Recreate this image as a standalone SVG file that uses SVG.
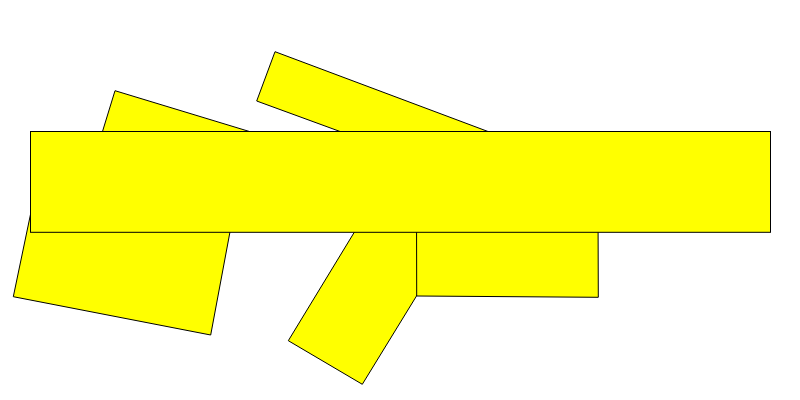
<svg xmlns="http://www.w3.org/2000/svg" width="800" height="400" viewBox="0 0 800 400">
<style>
.s{fill:#ffff00;stroke:#000;stroke-width:1;stroke-linejoin:miter}
</style>
<rect width="800" height="400" fill="#fff"/>
<g id="shape-left">
<polygon class="s" points="115,90.7 255,133.2 239.7,180 210.7,335 13.3,296.7 33.5,200 90.7,170"/>
</g>
<g id="shape-upper">
<polygon class="s" points="275,51.7 520,143.5 500,190 256.7,101"/>
</g>
<g id="shape-tilted-lower">
<polygon class="s" points="288.3,340.7 362.3,384.3 416.5,296 470,200 380,190"/>
</g>
<g id="shape-rect-lower">
<polygon class="s" points="416.5,200 598,200 598.3,297.3 416.7,296"/>
</g>
<g id="shape-bar">
<rect class="s" x="30.5" y="131.5" width="740" height="100.8"/>
</g>
</svg>
